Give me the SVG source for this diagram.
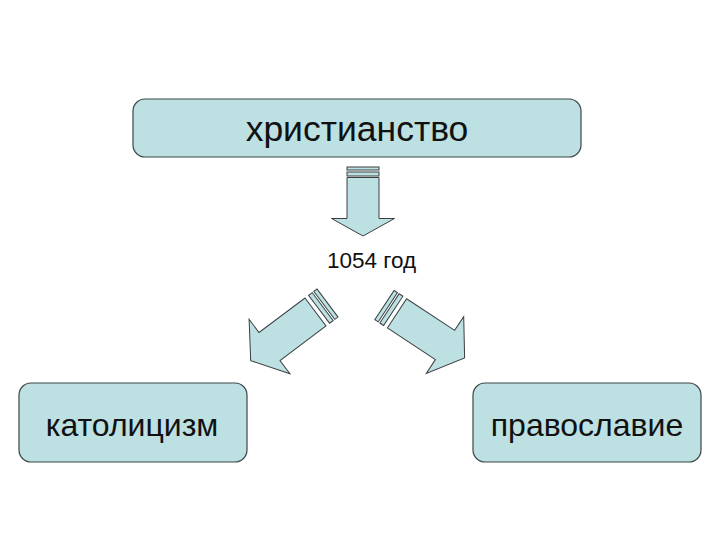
<svg xmlns="http://www.w3.org/2000/svg" width="720" height="540" viewBox="0 0 720 540">
<style>
.box{fill:#bde0e2;stroke:#3c4646;stroke-width:1.2}
.arr{fill:#bde0e2;stroke:#3a3f40;stroke-width:1;stroke-linejoin:miter}
.lbl{font-family:"Liberation Sans",Arial,sans-serif;fill:#111;text-anchor:middle}
</style>
<defs>
<g id="diag">
<polygon class="arr" points="-17.5,-57.5 17.5,-57.5 17.5,0 34,0 0,23.5 -34,0 -17.5,0"/>
<rect class="arr" x="-17.5" y="-66.5" width="35" height="4.5"/>
<rect class="arr" x="-17.5" y="-72.5" width="35" height="4"/>
</g>
</defs>
<rect width="720" height="540" fill="#ffffff"/>
<g id="node-christianity">
<rect class="box" x="133" y="99" width="448" height="58" rx="12"/>
<text class="lbl" x="357" y="141" font-size="35.5">христианство</text>
</g>
<g id="node-catholicism">
<rect class="box" x="19" y="383" width="228" height="79" rx="12"/>
<text class="lbl" x="132" y="436" font-size="32">католицизм</text>
</g>
<g id="node-orthodoxy">
<rect class="box" x="473" y="383" width="228" height="79" rx="12"/>
<text class="lbl" x="587" y="436" font-size="32">православие</text>
</g>
<g id="connectors">
<g id="arrow-down">
<polygon class="arr" points="347,177.5 379,177.5 379,218.5 394.5,218.5 363,236 331.5,218.5 347,218.5"/>
<rect class="arr" x="347" y="172" width="32" height="4"/>
<rect class="arr" x="347" y="167" width="32" height="3"/>
</g>
<use href="#diag" transform="translate(269.5,346.5) rotate(53.13)"/>
<use href="#diag" transform="translate(445,345) rotate(-56.6)"/>
<text class="lbl" x="371.5" y="267.5" font-size="22.5">1054 год</text>
</g>
</svg>
